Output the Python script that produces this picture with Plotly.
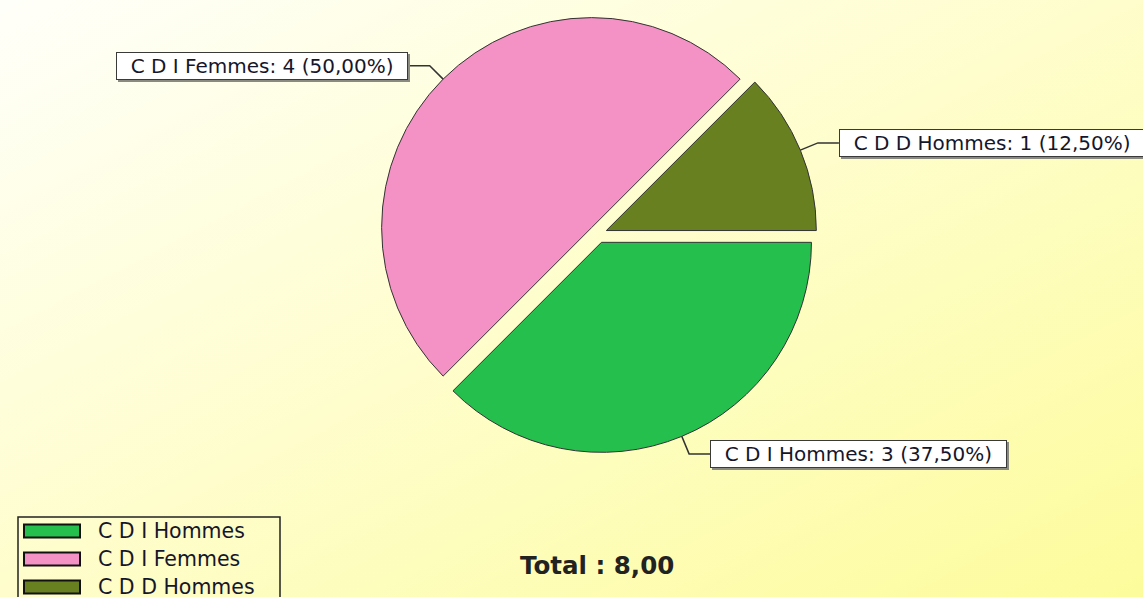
import math
import base64
import plotly.graph_objects as go

# ---------------- data ----------------
categories = ["C D I Hommes", "C D I Femmes", "C D D Hommes"]
values = [3, 4, 1]
slice_colors = ["#25bf4d", "#f492c6", "#688020"]

# ---------------- layout constants ----------------
W, H = 1143, 597
CX, CY = 598, 234          # pie centre (px)
R = 210                    # pie radius (px)
PULL = 0.043
LABEL_FONT = dict(family="DejaVu Sans, Verdana, sans-serif", size=20, color="#16162a")


def px(x):
    return x / W


def py(y):
    return 1 - y / H


half = R * (1 + PULL)
fig = go.Figure()
fig.add_trace(go.Pie(
    labels=categories,
    values=values,
    sort=False,
    direction="clockwise",
    rotation=90,
    pull=[PULL] * len(values),
    marker=dict(colors=slice_colors, line=dict(color="#333333", width=1)),
    textinfo="none",
    hoverinfo="label+value+percent",
    showlegend=False,
    domain=dict(x=[px(CX - half), px(CX + half)], y=[py(CY + half), py(CY - half)]),
))

total = sum(values)
shapes = []
annotations = []

# ---------------- slice labels with elbow leaders ----------------
cum = 0.0
for cat, v in zip(categories, values):
    frac = v / total
    mid = math.radians(-360 * (cum + frac / 2))
    cum += frac
    c, s = math.cos(mid), math.sin(mid)
    pcx, pcy = CX + PULL * R * c, CY - PULL * R * s
    ex, ey = pcx + R * c, pcy - R * s
    bx, by = pcx + (R + 19) * c, pcy - (R + 19) * s
    left = c < 0
    tx = bx - 22 if left else bx + 21
    shapes.append(dict(type="path", xref="paper", yref="paper",
                       path=f"M{px(ex)},{py(ey)} L{px(bx)},{py(by)} L{px(tx)},{py(by)}",
                       line=dict(color="#333333", width=1.5)))
    pct = f"{frac * 100:.2f}".replace(".", ",")
    text = f"\u00a0\u00a0{cat}: {v} ({pct}%)\u00a0\u00a0"
    common = dict(xref="paper", yref="paper", x=px(tx), y=py(by),
                  xanchor="right" if left else "left", yanchor="middle",
                  showarrow=False, text=text, height=24, borderpad=1, borderwidth=1)
    # shadow
    annotations.append(dict(common, font=dict(LABEL_FONT, color="rgba(0,0,0,0)"),
                            bgcolor="#8a8a80", bordercolor="#8a8a80", xshift=2, yshift=-2))
    annotations.append(dict(common, font=LABEL_FONT, bgcolor="#ffffff", bordercolor="#3a3a3a"))

# ---------------- manual legend ----------------
shapes.append(dict(type="rect", xref="paper", yref="paper",
                   x0=px(18), x1=px(280), y0=py(610), y1=py(517),
                   line=dict(color="#222222", width=1.5), fillcolor="rgba(0,0,0,0)"))
for i, (cat, col) in enumerate(zip(categories, slice_colors)):
    yc = 531 + 28 * i
    shapes.append(dict(type="rect", xref="paper", yref="paper",
                       x0=px(24), x1=px(80), y0=py(yc + 6.5), y1=py(yc - 6.5),
                       line=dict(color="#111111", width=2), fillcolor=col))
    annotations.append(dict(xref="paper", yref="paper", x=px(96), y=py(yc),
                            xanchor="left", yanchor="middle", showarrow=False,
                            text=cat, font=dict(LABEL_FONT, size=20.5)))

# ---------------- total ----------------
total_txt = f"{total:.2f}".replace(".", ",")
annotations.append(dict(xref="paper", yref="paper", x=px(597), y=py(565),
                        xanchor="center", yanchor="middle", showarrow=False,
                        text=f"<b>Total : {total_txt}</b>",
                        font=dict(family="DejaVu Sans, Verdana, sans-serif", size=24.5, color="#222222")))

# ---------------- gradient background ----------------
svg = (f'<svg xmlns="http://www.w3.org/2000/svg" width="{W}" height="{H}" '
       f'viewBox="0 0 {W} {H}" preserveAspectRatio="none">'
       '<defs><linearGradient id="g" x1="0" y1="0" x2="1" y2="1">'
       '<stop offset="0" stop-color="#fffffa"/><stop offset="1" stop-color="#fdfc9c"/>'
       '</linearGradient></defs>'
       f'<rect width="{W}" height="{H}" fill="url(#g)"/></svg>')
bg_src = "data:image/svg+xml;base64," + base64.b64encode(svg.encode()).decode()

fig.update_layout(
    width=W, height=H,
    margin=dict(l=0, r=0, t=0, b=0),
    paper_bgcolor="#fefecc",
    plot_bgcolor="rgba(0,0,0,0)",
    showlegend=False,
    shapes=shapes,
    annotations=annotations,
    images=[dict(source=bg_src, xref="paper", yref="paper", x=0, y=1,
                 sizex=1, sizey=1, xanchor="left", yanchor="top",
                 sizing="stretch", layer="below")],
)

fig.write_html("out.html",
               config={"displayModeBar": False},
               post_script="document.body.style.margin='0';document.body.style.overflow='hidden';")
